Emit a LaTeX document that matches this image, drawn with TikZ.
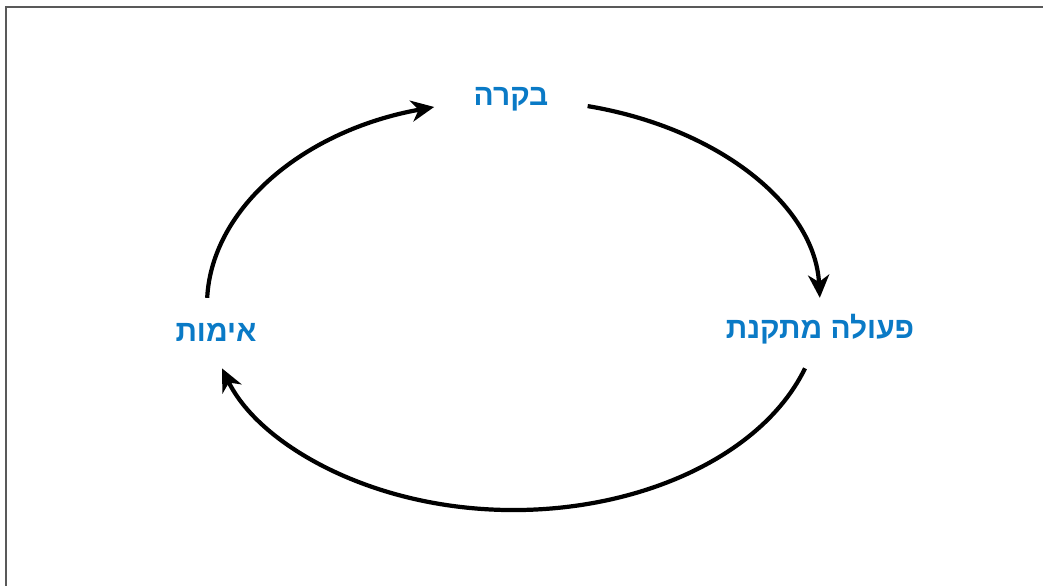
\documentclass[tikz,border=0pt]{standalone}
\usepackage{fontspec}
\newfontfamily\hebfont[Script=Hebrew]{Liberation Sans}
\TeXXeTstate=1
\usetikzlibrary{arrows.meta}
\definecolor{phaseblue}{RGB}{10,122,198}

\begin{document}
\begin{tikzpicture}[
  phase/.style={font=\hebfont\bfseries\fontsize{17}{19}\selectfont,
                text=phaseblue, inner sep=1pt},
  loop/.style ={line width=2.4pt,
                -{Stealth[length=13pt, width=12pt, inset=4pt]}},
  frame/.style={line width=1pt, black!65}
]

%% ---- Canvas and frame -------------------------------------------
\useasboundingbox (0,0) rectangle (20.86,-11.72);
\draw[frame] (0.12,-11.72) -- (0.12,-0.14) -- (20.86,-0.14);

%% ---- Cycle centre -----------------------------------------------
\coordinate (hub) at (10.27,-6.1);

%% ---- Phases -----------------------------------------------------
\node[phase] (control) at (10.22,-1.98) {\beginR בקרה\endR};
\node[phase] (action)  at (16.40,-6.58) {\beginR פעולה מתקנת\endR};
\node[phase] (verify)  at (4.32, -6.64) {\beginR אימות\endR};

%% ---- Cycle arcs -------------------------------------------------
\draw[loop] ([shift={(178:6.13 and 4.1)}]hub)
      arc[start angle=178, end angle=105, x radius=6.13, y radius=4.1];
\draw[loop] ([shift={(76:6.13 and 4.1)}]hub)
      arc[start angle=76, end angle=2, x radius=6.13, y radius=4.1];
\draw[loop] ([shift={(-18:6.13 and 4.1)}]hub)
      arc[start angle=-18, end angle=-162, x radius=6.13, y radius=4.1];

\end{tikzpicture}
\end{document}
